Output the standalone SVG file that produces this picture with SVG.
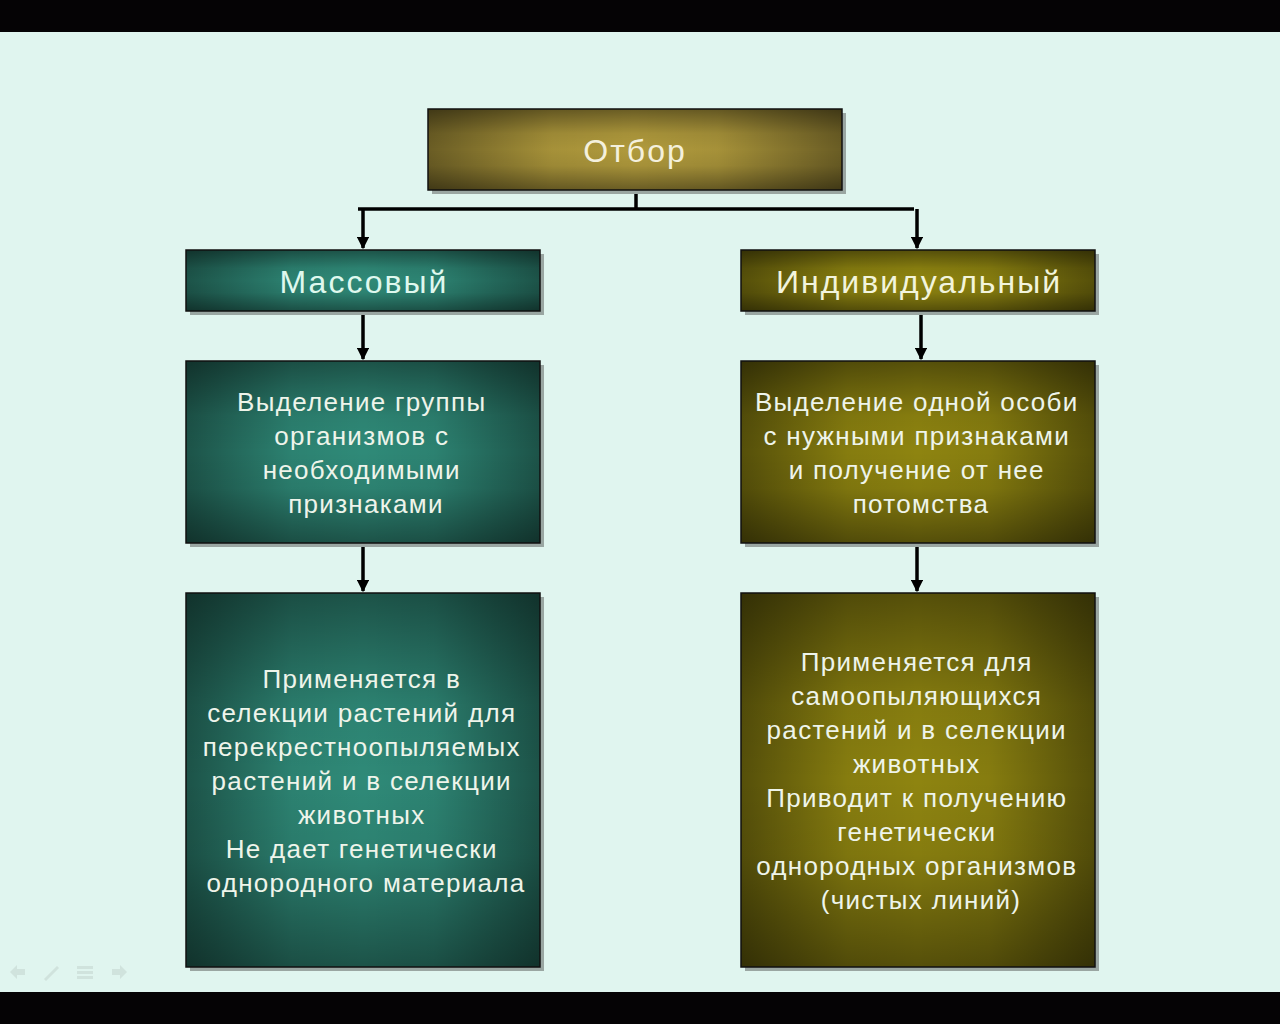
<svg xmlns="http://www.w3.org/2000/svg" width="1280" height="1024" viewBox="0 0 1280 1024">
<style>
.box{stroke:#111;stroke-width:1.5}
.sh{fill:#9aa6a2}
.t{font-family:"Liberation Sans",Arial,sans-serif;text-anchor:middle}
.hd{font-size:32px;letter-spacing:2px}
.bd{font-size:26px;letter-spacing:1.3px;fill:#eef4ea}
.tl{fill:#dff8ee}
.ol{fill:#f2f4dc}
.con{stroke:#000;stroke-width:3.5;fill:none}
</style>
<defs>
<linearGradient id="gh" x1="0" y1="0" x2="1" y2="0">
<stop offset="0" stop-color="#000" stop-opacity="0.4"/>
<stop offset="0.3" stop-color="#000" stop-opacity="0.06"/>
<stop offset="0.5" stop-color="#000" stop-opacity="0"/>
<stop offset="0.7" stop-color="#000" stop-opacity="0.06"/>
<stop offset="1" stop-color="#000" stop-opacity="0.4"/>
</linearGradient>
<linearGradient id="gv" x1="0" y1="0" x2="0" y2="1">
<stop offset="0" stop-color="#000" stop-opacity="0.4"/>
<stop offset="0.3" stop-color="#000" stop-opacity="0.06"/>
<stop offset="0.5" stop-color="#000" stop-opacity="0"/>
<stop offset="0.7" stop-color="#000" stop-opacity="0.06"/>
<stop offset="1" stop-color="#000" stop-opacity="0.4"/>
</linearGradient>
<marker id="ah" viewBox="0 0 10 10" refX="9" refY="5" markerWidth="4" markerHeight="3.5" orient="auto" markerUnits="strokeWidth">
<path d="M0,0 L10,5 L0,10 z" fill="#000"/>
</marker>
</defs>
<rect x="0" y="0" width="1280" height="1024" fill="#e0f5ef"/>
<rect x="0" y="0" width="1280" height="32" fill="#050305"/>
<rect x="0" y="992" width="1280" height="32" fill="#050305"/>

<g id="nav" fill="#cfe2dc" opacity="0.9">
<path d="M10,972 L17,965 L17,969 L25,969 L25,975 L17,975 L17,979 z"/>
<path d="M44,979 L57,966 L59,968 L46,981 z"/>
<rect x="77" y="966" width="16" height="3"/><rect x="77" y="971" width="16" height="3"/><rect x="77" y="976" width="16" height="3"/>
<path d="M127,972 L120,965 L120,969 L112,969 L112,975 L120,975 L120,979 z"/>
</g>

<g id="connectors">
<path class="con" d="M636,190 V209"/>
<path class="con" d="M358,209 H914"/>
<path class="con" d="M363,209 V248" marker-end="url(#ah)"/>
<path class="con" d="M917,209 V248" marker-end="url(#ah)"/>
<path class="con" d="M363,311 V359" marker-end="url(#ah)"/>
<path class="con" d="M921,311 V359" marker-end="url(#ah)"/>
<path class="con" d="M363,543 V591" marker-end="url(#ah)"/>
<path class="con" d="M917,543 V591" marker-end="url(#ah)"/>
</g>

<g id="otbor">
<rect class="sh" x="432" y="113" width="414" height="81"/>
<rect x="428" y="109" width="414" height="81" fill="#b09a3c"/>
<rect x="428" y="109" width="414" height="81" fill="url(#gh)"/>
<rect x="428" y="109" width="414" height="81" fill="url(#gv)"/>
<rect class="box" x="428" y="109" width="414" height="81" fill="none"/>
<text class="t hd" x="635" y="162" fill="#f4f0dc">Отбор</text>
</g>

<g id="massovyi">
<rect class="sh" x="190" y="254" width="354" height="61"/>
<rect x="186" y="250" width="354" height="61" fill="#2f8a78"/>
<rect x="186" y="250" width="354" height="61" fill="url(#gh)"/>
<rect x="186" y="250" width="354" height="61" fill="url(#gv)"/>
<rect class="box" x="186" y="250" width="354" height="61" fill="none"/>
<text class="t hd tl" x="364" y="293">Массовый</text>
</g>

<g id="individ">
<rect class="sh" x="745" y="254" width="354" height="61"/>
<rect x="741" y="250" width="354" height="61" fill="#8e8410"/>
<rect x="741" y="250" width="354" height="61" fill="url(#gh)"/>
<rect x="741" y="250" width="354" height="61" fill="url(#gv)"/>
<rect class="box" x="741" y="250" width="354" height="61" fill="none"/>
<text class="t hd ol" x="919" y="293">Индивидуальный</text>
</g>

<g id="mass-desc">
<rect class="sh" x="190" y="365" width="354" height="182"/>
<rect x="186" y="361" width="354" height="182" fill="#2f8a78"/>
<rect x="186" y="361" width="354" height="182" fill="url(#gh)"/>
<rect x="186" y="361" width="354" height="182" fill="url(#gv)"/>
<rect class="box" x="186" y="361" width="354" height="182" fill="none"/>
<text class="t bd">
<tspan x="366" y="411">Выделение группы</tspan>
<tspan x="366" y="445">организмов с</tspan>
<tspan x="366" y="479">необходимыми</tspan>
<tspan x="366" y="513">признаками</tspan>
</text>
</g>

<g id="ind-desc">
<rect class="sh" x="745" y="365" width="354" height="182"/>
<rect x="741" y="361" width="354" height="182" fill="#8e8410"/>
<rect x="741" y="361" width="354" height="182" fill="url(#gh)"/>
<rect x="741" y="361" width="354" height="182" fill="url(#gv)"/>
<rect class="box" x="741" y="361" width="354" height="182" fill="none"/>
<text class="t bd">
<tspan x="921" y="411">Выделение одной особи</tspan>
<tspan x="921" y="445">с нужными признаками</tspan>
<tspan x="921" y="479">и получение от нее</tspan>
<tspan x="921" y="513">потомства</tspan>
</text>
</g>

<g id="mass-use">
<rect class="sh" x="190" y="597" width="354" height="374"/>
<rect x="186" y="593" width="354" height="374" fill="#2f8a78"/>
<rect x="186" y="593" width="354" height="374" fill="url(#gh)"/>
<rect x="186" y="593" width="354" height="374" fill="url(#gv)"/>
<rect class="box" x="186" y="593" width="354" height="374" fill="none"/>
<text class="t bd">
<tspan x="366" y="688">Применяется в</tspan>
<tspan x="366" y="722">селекции растений для</tspan>
<tspan x="366" y="756">перекрестноопыляемых</tspan>
<tspan x="366" y="790">растений и в селекции</tspan>
<tspan x="366" y="824">животных</tspan>
<tspan x="366" y="858">Не дает генетически</tspan>
<tspan x="366" y="892">однородного материала</tspan>
</text>
</g>

<g id="ind-use">
<rect class="sh" x="745" y="597" width="354" height="374"/>
<rect x="741" y="593" width="354" height="374" fill="#8e8410"/>
<rect x="741" y="593" width="354" height="374" fill="url(#gh)"/>
<rect x="741" y="593" width="354" height="374" fill="url(#gv)"/>
<rect class="box" x="741" y="593" width="354" height="374" fill="none"/>
<text class="t bd">
<tspan x="921" y="671">Применяется для</tspan>
<tspan x="921" y="705">самоопыляющихся</tspan>
<tspan x="921" y="739">растений и в селекции</tspan>
<tspan x="921" y="773">животных</tspan>
<tspan x="921" y="807">Приводит к получению</tspan>
<tspan x="921" y="841">генетически</tspan>
<tspan x="921" y="875">однородных организмов</tspan>
<tspan x="921" y="909">(чистых линий)</tspan>
</text>
</g>
</svg>
